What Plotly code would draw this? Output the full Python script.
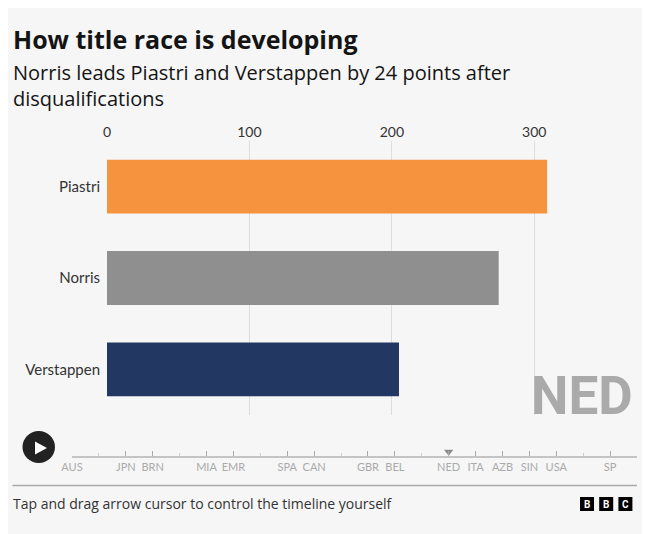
import plotly.graph_objects as go

# standings after the Dutch GP
drivers = ["Piastri", "Norris", "Verstappen"]
points = [309, 275, 205]
bar_colours = ["#F5933F", "#8F8F8F", "#233763"]

races = ["AUS", "CHN", "JPN", "BRN", "SAU", "MIA", "EMR", "MON", "SPA", "CAN", "AUT",
         "GBR", "BEL", "HUN", "NED", "ITA", "AZB", "SIN", "USA", "MEX", "SP", "LV"]
labelled = ["AUS", "JPN", "BRN", "MIA", "EMR", "SPA", "CAN", "GBR", "BEL",
            "NED", "ITA", "AZB", "SIN", "USA", "SP"]
current = "NED"

W, H = 650, 534
# the page sits a little in from the window corner
OX, OY = 8, 8


def px(x):
    return (x - OX) / W


def py(y):
    return 1 - (y - OY) / H


bg = "#F6F6F6"

fig = go.Figure()

fig.add_trace(go.Bar(
    x=points, y=drivers, orientation="h",
    marker=dict(color=bar_colours, line=dict(width=0)),
    width=0.59, hoverinfo="x+y", showlegend=False,
))

# timeline marker
idx = {r: i for i, r in enumerate(races)}
fig.add_trace(go.Scatter(
    x=[idx[current]], y=[0.25], xaxis="x2", yaxis="y2", mode="markers",
    marker=dict(symbol="triangle-down", size=8, color="#8a8a8a"),
    showlegend=False, hoverinfo="skip", cliponaxis=False,
))

fig.update_layout(
    width=W, height=H,
    margin=dict(l=0, r=0, t=0, b=0),
    paper_bgcolor=bg, plot_bgcolor=bg,
    xaxis=dict(
        domain=[px(107), px(634)], range=[0, 370], side="top",
        tickvals=[0, 100, 200, 300], showgrid=True, gridcolor="#DDDDDD",
        gridwidth=1, zeroline=False, showline=False, ticks="",
        tickfont=dict(family="Lato", size=14, color="#333333"),
        automargin=False, fixedrange=True,
    ),
    yaxis=dict(
        domain=[py(415), py(141)], categoryorder="array",
        categoryarray=drivers[::-1], ticks="", showline=False,
        ticklabelstandoff=6,
        tickfont=dict(family="Lato", size=15, color="#333333"),
        automargin=False, fixedrange=True,
    ),
    xaxis2=dict(
        domain=[px(72), px(637)], range=[0, len(races) - 1], anchor="y2",
        tickvals=[idx[r] for r in labelled], ticktext=labelled,
        ticks="inside", ticklen=5, tickcolor="#AAAAAA", tickwidth=1,
        minor=dict(dtick=1, tick0=0, ticks="inside", ticklen=3,
                   tickcolor="#CCCCCC", tickwidth=1),
        showline=True, linecolor="#C4C4C4", linewidth=2,
        showgrid=False, zeroline=False,
        tickfont=dict(family="Lato", size=11, color="#AAAAAA"),
        automargin=False, fixedrange=True,
    ),
    yaxis2=dict(
        domain=[py(455.5), py(440)], range=[0, 1], visible=False, fixedrange=True,
    ),
    font=dict(family="Open Sans", color="#141414"),
)

# play button
fig.add_shape(type="circle", xref="paper", yref="paper",
              x0=px(22.5), x1=px(55), y0=py(463), y1=py(431),
              fillcolor="#222222", line=dict(width=0))
fig.add_shape(type="path", xref="paper", yref="paper",
              path=f"M {px(35)} {py(441.5)} L {px(35)} {py(454.5)} L {px(47)} {py(448)} Z",
              fillcolor="white", line=dict(width=0))

# footer rule
fig.add_shape(type="line", xref="paper", yref="paper",
              x0=px(12.5), x1=px(637), y0=py(485.5), y1=py(485.5),
              line=dict(color="#AAAAAA", width=1.5))

fig.add_annotation(text="<b>How title race is developing</b>",
                   xref="paper", yref="paper", x=px(11), y=py(38.7),
                   xanchor="left", yanchor="middle", showarrow=False,
                   font=dict(family="Open Sans", size=25, color="#141414"))
fig.add_annotation(text="Norris leads Piastri and Verstappen by 24 points after<br>disqualifications",
                   xref="paper", yref="paper", x=px(11), y=py(85), align="left",
                   xanchor="left", yanchor="middle", showarrow=False,
                   font=dict(family="Open Sans", size=20, color="#141414"))
fig.add_annotation(text="<b>" + current + "</b>",
                   xref="paper", yref="paper", x=px(635), y=py(396.5),
                   xanchor="right", yanchor="middle", showarrow=False,
                   font=dict(family="Roboto", size=53, color="#AAAAAA"))
fig.add_annotation(text="Tap and drag arrow cursor to control the timeline yourself",
                   xref="paper", yref="paper", x=px(11), y=py(503.5),
                   xanchor="left", yanchor="middle", showarrow=False,
                   font=dict(family="Open Sans", size=14, color="#333333"))

# BBC blocks
for i, letter in enumerate("BBC"):
    cx = 587 + i * 19.2
    fig.add_shape(type="rect", xref="paper", yref="paper",
                  x0=px(cx - 7), x1=px(cx + 7), y0=py(511), y1=py(497),
                  fillcolor="#000000", line=dict(width=0))
    fig.add_annotation(text="<b>" + letter + "</b>", xref="paper", yref="paper",
                       x=px(cx), y=py(504), xanchor="center", yanchor="middle",
                       showarrow=False, font=dict(family="Roboto", size=10, color="white"))

fig.write_html("out.html")
